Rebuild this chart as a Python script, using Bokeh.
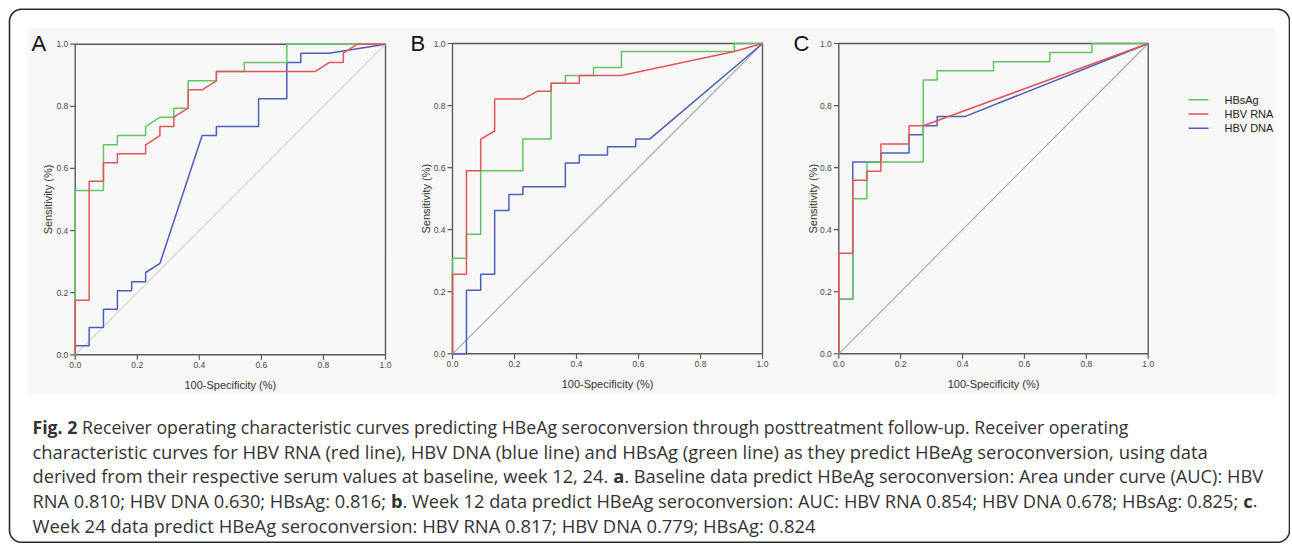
import os
import subprocess
import numpy as np
from bokeh.plotting import figure
from bokeh.models import Range1d
from bokeh.core.properties import value
from bokeh.embed import file_html
from bokeh.resources import INLINE

# ---------------- data ----------------
series_names = ["HBsAg", "HBV RNA", "HBV DNA"]
panel_letters = ["A", "B", "C"]
tick_values = [0.0, 0.2, 0.4, 0.6, 0.8, 1.0]
tick_labels = ["0.0", "0.2", "0.4", "0.6", "0.8", "1.0"]
x_axis_label = "100-Specificity (%)"
y_axis_label = "Sensitivity (%)"
reference_line = [0.0, 1.0]

# Panel A - baseline
a_hbsag_x = [0, 0, 0.091, 0.091, 0.136, 0.136, 0.227, 0.227, 0.273, 0.318, 0.318, 0.364, 0.364, 0.455, 0.455, 0.545, 0.545, 0.682, 0.682, 1.0]
a_hbsag_y = [0, 0.529, 0.529, 0.676, 0.676, 0.706, 0.706, 0.735, 0.765, 0.765, 0.794, 0.794, 0.882, 0.882, 0.912, 0.912, 0.941, 0.941, 1.0, 1.0]
a_rna_x = [0, 0, 0.045, 0.045, 0.091, 0.091, 0.136, 0.136, 0.227, 0.227, 0.273, 0.273, 0.318, 0.318, 0.364, 0.364, 0.409, 0.455, 0.455, 0.773, 0.818, 0.864, 0.864, 0.909, 1.0]
a_rna_y = [0, 0.176, 0.176, 0.559, 0.559, 0.618, 0.618, 0.647, 0.647, 0.676, 0.706, 0.735, 0.735, 0.765, 0.794, 0.853, 0.853, 0.882, 0.912, 0.912, 0.941, 0.941, 0.971, 1.0, 1.0]
a_dna_x = [0, 0, 0.045, 0.045, 0.091, 0.091, 0.136, 0.136, 0.182, 0.182, 0.227, 0.227, 0.273, 0.409, 0.455, 0.455, 0.591, 0.591, 0.682, 0.682, 0.727, 0.727, 0.818, 1.0]
a_dna_y = [0, 0.029, 0.029, 0.088, 0.088, 0.147, 0.147, 0.206, 0.206, 0.235, 0.235, 0.265, 0.294, 0.706, 0.706, 0.735, 0.735, 0.824, 0.824, 0.941, 0.941, 0.971, 0.971, 1.0]

# Panel B - week 12
b_hbsag_x = [0, 0, 0.045, 0.045, 0.091, 0.091, 0.227, 0.227, 0.318, 0.318, 0.364, 0.364, 0.455, 0.455, 0.545, 0.545, 0.909, 0.909, 1.0]
b_hbsag_y = [0, 0.308, 0.308, 0.385, 0.385, 0.590, 0.590, 0.692, 0.692, 0.872, 0.872, 0.897, 0.897, 0.923, 0.923, 0.974, 0.974, 1.0, 1.0]
b_rna_x = [0, 0, 0.045, 0.045, 0.091, 0.091, 0.136, 0.136, 0.227, 0.273, 0.318, 0.318, 0.409, 0.409, 0.545, 0.909, 1.0]
b_rna_y = [0, 0.256, 0.256, 0.590, 0.590, 0.692, 0.718, 0.821, 0.821, 0.846, 0.846, 0.872, 0.872, 0.897, 0.897, 0.974, 1.0]
b_dna_x = [0, 0.045, 0.045, 0.091, 0.091, 0.136, 0.136, 0.182, 0.182, 0.227, 0.227, 0.364, 0.364, 0.409, 0.409, 0.5, 0.5, 0.591, 0.591, 0.636, 1.0]
b_dna_y = [0, 0, 0.205, 0.205, 0.256, 0.256, 0.462, 0.462, 0.513, 0.513, 0.538, 0.538, 0.615, 0.615, 0.641, 0.641, 0.667, 0.667, 0.692, 0.692, 1.0]

# Panel C - week 24
c_hbsag_x = [0, 0, 0.045, 0.045, 0.091, 0.091, 0.273, 0.273, 0.318, 0.318, 0.5, 0.5, 0.682, 0.682, 0.818, 0.818, 1.0]
c_hbsag_y = [0, 0.176, 0.176, 0.5, 0.5, 0.618, 0.618, 0.882, 0.882, 0.912, 0.912, 0.941, 0.941, 0.971, 0.971, 1.0, 1.0]
c_rna_x = [0, 0, 0.045, 0.045, 0.091, 0.091, 0.136, 0.136, 0.227, 0.227, 0.273, 1.0]
c_rna_y = [0, 0.324, 0.324, 0.559, 0.559, 0.588, 0.588, 0.676, 0.676, 0.735, 0.735, 1.0]
c_dna_x = [0, 0, 0.045, 0.045, 0.136, 0.136, 0.227, 0.227, 0.273, 0.273, 0.318, 0.318, 0.409, 1.0]
c_dna_y = [0, 0.176, 0.176, 0.618, 0.618, 0.647, 0.647, 0.706, 0.706, 0.735, 0.735, 0.765, 0.765, 1.0]

caption_lines = [
    [("Fig. 2", True), (" Receiver operating characteristic curves predicting HBeAg seroconversion through posttreatment follow-up. Receiver operating", False)],
    [("characteristic curves for HBV RNA (red line), HBV DNA (blue line) and HBsAg (green line) as they predict HBeAg seroconversion, using data", False)],
    [("derived from their respective serum values at baseline, week 12, 24. ", False), ("a", True), (". Baseline data predict HBeAg seroconversion: Area under curve (AUC): HBV", False)],
    [("RNA 0.810; HBV DNA 0.630; HBsAg: 0.816; ", False), ("b", True), (". Week 12 data predict HBeAg seroconversion: AUC: HBV RNA 0.854; HBV DNA 0.678; HBsAg: 0.825; ", False), ("c", True), (".", False)],
    [("Week 24 data predict HBeAg seroconversion: HBV RNA 0.817; HBV DNA 0.779; HBsAg: 0.824", False)],
]

# (x, y) per series, per panel: HBsAg, HBV RNA, HBV DNA
panels = [
    [(a_hbsag_x, a_hbsag_y), (a_rna_x, a_rna_y), (a_dna_x, a_dna_y)],
    [(b_hbsag_x, b_hbsag_y), (b_rna_x, b_rna_y), (b_dna_x, b_dna_y)],
    [(c_hbsag_x, c_hbsag_y), (c_rna_x, c_rna_y), (c_dna_x, c_dna_y)],
]

# ---------------- layout / style ----------------
W, H = 1290, 543
SERIES_COLORS = ["#62c462", "#e5545c", "#4b5fb4"]
DRAW_ORDER = [2, 0, 1]          # DNA below, HBsAg, RNA on top
DIAG_COLORS = ["#d2d2d2", "#a8a8a8", "#a8a8a8"]
FRAME_COLOR = "#5a5a5a"
PANEL_BOX = [  # (x at 0, x at 1, y at 0, y at 1) in px
    (74.7, 385.0, 354.3, 43.7),
    (452.0, 762.0, 353.3, 43.0),
    (838.3, 1147.7, 353.3, 43.0),
]
YLABEL_X = [47.5, 425.0, 812.5]
LETTER_POS = [(31, 43), (410, 43), (793, 43)]
AX_FONT = "Liberation Sans"
CAP_FONT = "Open Sans"
CAP_X = 32.0
CAP_END = [1129.0, 1208.0, 1263.0, 1257.0, 815.0]
CAP_BASE = [426.5, 451.0, 475.5, 500.0, 524.5]
LEG_X0, LEG_X1, LEG_TX = 1188, 1208, 1224
LEG_Y = [99.3, 113.5, 127.7]

p = figure(width=W, height=H, output_backend="svg", toolbar_location=None,
           x_range=Range1d(0, W), y_range=Range1d(H, 0),
           min_border=0, outline_line_color=None, background_fill_color="white",
           border_fill_color="white")
p.axis.visible = False
p.grid.visible = False

# light background of the chart image
p.quad(left=27, right=1275, top=27, bottom=393, fill_color="#f8f8f8", line_color=None)

# rounded outer border
def rounded_rect(x0, y0, x1, y1, r, n=14):
    xs, ys = [], []
    for cx, cy, a0, a1 in [(x1 - r, y0 + r, -90, 0), (x1 - r, y1 - r, 0, 90),
                           (x0 + r, y1 - r, 90, 180), (x0 + r, y0 + r, 180, 270)]:
        t = np.radians(np.linspace(a0, a1, n))
        xs += list(cx + r * np.cos(t))
        ys += list(cy + r * np.sin(t))
    xs.append(xs[0]); ys.append(ys[0])
    return xs, ys

bx, by = rounded_rect(9.0, 8.8, 1289.0, 541.8, 12)
p.line(bx, by, line_color="#2b2b2b", line_width=1.6)

# ---------------- panels ----------------
for i, (x0, x1, y0, y1) in enumerate(PANEL_BOX):
    kx = x1 - x0
    ky = y0 - y1
    xn, yn = f"x{i}", f"y{i}"
    p.extra_x_ranges[xn] = Range1d(-x0 / kx, (W - x0) / kx)
    p.extra_y_ranges[yn] = Range1d((y0 - H) / ky, y0 / ky)
    kw = dict(x_range_name=xn, y_range_name=yn)

    lo, hi = tick_values[0], tick_values[-1]
    # frame
    p.quad(left=lo, right=hi, bottom=lo, top=hi, fill_color=None,
           line_color=FRAME_COLOR, line_width=1.4, **kw)
    # ticks
    p.ray(x=tick_values, y=[lo] * len(tick_values), length=5, length_units="screen",
          angle=-np.pi / 2, line_color=FRAME_COLOR, line_width=1.2, **kw)
    p.ray(x=[lo] * len(tick_values), y=tick_values, length=5, length_units="screen",
          angle=np.pi, line_color=FRAME_COLOR, line_width=1.2, **kw)
    # reference diagonal and ROC curves
    p.line(reference_line, reference_line, line_color=DIAG_COLORS[i], line_width=1.1, **kw)
    for s in DRAW_ORDER:
        sx, sy = panels[i][s]
        p.line(sx, sy, line_color=SERIES_COLORS[s], line_width=1.5, **kw)
    # tick labels
    p.text(x=tick_values, y=[lo] * len(tick_values), text=tick_labels, y_offset=10,
           text_align="center", text_baseline="middle", text_font=value(AX_FONT),
           text_font_size="8.5px", text_color="#4a4a4a", **kw)
    p.text(x=[lo] * len(tick_values), y=tick_values, text=tick_labels, x_offset=-7,
           text_align="right", text_baseline="middle", text_font=value(AX_FONT),
           text_font_size="8.5px", text_color="#4a4a4a", **kw)
    # axis labels
    p.text(x=[(lo + hi) / 2], y=[lo], text=[x_axis_label], y_offset=30,
           text_align="center", text_baseline="alphabetic", text_font=value(AX_FONT),
           text_font_size="11px", text_color="#333333", **kw)
    p.text(x=[lo], y=[(lo + hi) / 2], text=[y_axis_label], x_offset=YLABEL_X[i] - x0,
           angle=np.pi / 2, text_align="center", text_baseline="alphabetic",
           text_font=value(AX_FONT), text_font_size="11px", text_color="#333333", **kw)

# panel letters
p.text(x=[q[0] for q in LETTER_POS], y=[q[1] for q in LETTER_POS], text=panel_letters,
       text_align="left", text_baseline="alphabetic", text_font=value(AX_FONT),
       text_font_size="22px", text_color="#111111")

# legend
p.segment(x0=[LEG_X0] * 3, x1=[LEG_X1] * 3, y0=LEG_Y, y1=LEG_Y,
          line_color=SERIES_COLORS, line_width=1.5)
p.text(x=[LEG_TX] * 3, y=LEG_Y, text=series_names, text_align="left",
       text_baseline="middle", text_font=value(AX_FONT), text_font_size="11px",
       text_color="#222222")

# ---------------- caption ----------------
def _font_file(family, bold):
    try:
        out = subprocess.run(["fc-match", "-f", "%{file}",
                              f"{family}:{'bold' if bold else 'regular'}"],
                             capture_output=True, text=True, timeout=5).stdout.strip()
        if out and os.path.exists(out) and family.replace(" ", "").lower() in os.path.basename(out).replace(" ", "").lower():
            return out
    except Exception:
        pass
    return None

_fonts = {}
def text_width(s, bold, size):
    if bold not in _fonts:
        f = None
        try:
            from PIL import ImageFont
            path = _font_file(CAP_FONT, bold)
            if path:
                f = ImageFont.truetype(path, 100)
                if bold and "[" in os.path.basename(path):
                    try:
                        f.set_variation_by_name("Bold")
                    except Exception:
                        try:
                            f.set_variation_by_axes([100, 700])
                        except Exception:
                            pass
        except Exception:
            f = None
        _fonts[bold] = f
    f = _fonts[bold]
    if f is not None:
        return f.getlength(s) * size / 100.0
    return len(s) * size * (0.58 if bold else 0.53)

for line, base, x_end in zip(caption_lines, CAP_BASE, CAP_END):
    w100 = sum(text_width(seg, bold, 100.0) for seg, bold in line)
    size = 100.0 * (x_end - CAP_X) / w100
    cursor = CAP_X
    for seg, bold in line:
        lead = len(seg) - len(seg.lstrip(" "))
        xs = cursor + (text_width(" " * lead, bold, size) if lead else 0)
        p.text(x=[xs], y=[base], text=[seg.strip(" ")], text_align="left",
               text_baseline="alphabetic", text_font=value(CAP_FONT),
               text_font_size=f"{size:.2f}px", text_color="#333333",
               text_font_style="bold" if bold else "normal")
        cursor += text_width(seg, bold, size)

open("out.html", "w").write(file_html(p, INLINE))
